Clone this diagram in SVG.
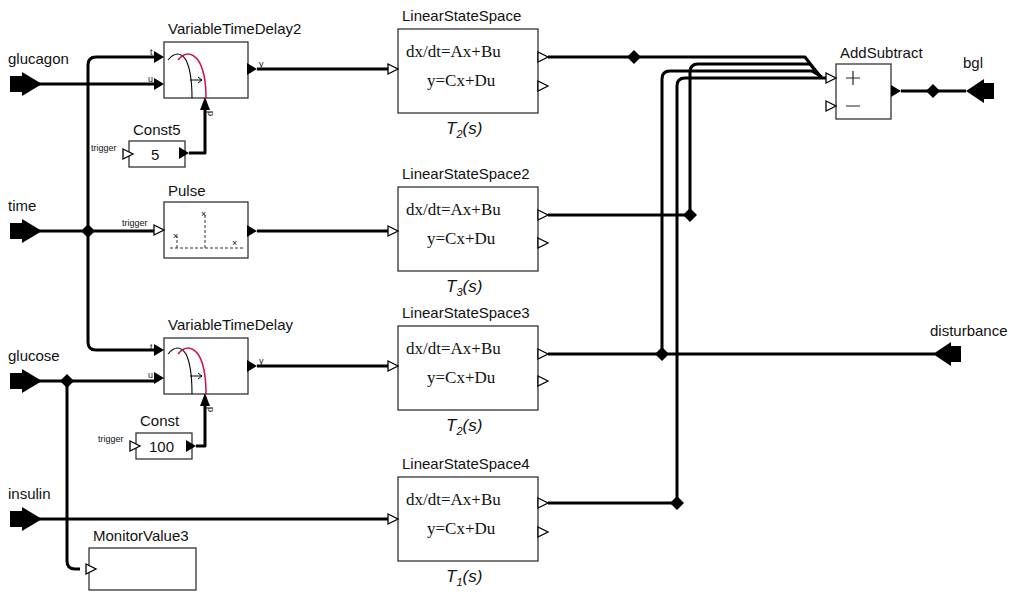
<svg xmlns="http://www.w3.org/2000/svg" width="1024" height="596" viewBox="0 0 1024 596">
<style>
.b{fill:#fff;stroke:#333;stroke-width:1.3}
.w{fill:none;stroke:#000;stroke-width:3;stroke-linejoin:round}
.l{font-family:"Liberation Sans",Arial,sans-serif;font-size:15px;fill:#111}
.s{font-family:"Liberation Sans",Arial,sans-serif;font-size:9px;fill:#111}
.e{font-family:"Liberation Serif","Times New Roman",serif;font-size:17px;fill:#111}
.t{font-family:"Liberation Sans",Arial,sans-serif;font-size:17px;font-style:italic;fill:#111}
.oi{fill:#fff;stroke:#000;stroke-width:1.3}
.fi{fill:#000}
.dash{fill:none;stroke:#333;stroke-width:1;stroke-dasharray:3 2}
</style>
<defs>
<path id="inp" d="M-30,-8h12v-4l20,12l-20,12v-4h-12z" fill="#000"/>
<path id="outp" d="M0,0l18,-12v4h10v16h-10v4z" fill="#000"/>
<path id="dia" d="M-7,0L0,-7L7,0L0,7z" fill="#000"/>
<path id="oin" d="M-10,-5L0,0L-10,5z" class="oi"/>
<path id="fin" d="M-10,-6L0,0L-10,6z" class="fi"/>
<path id="fout" d="M0,-6L10,0L0,6z" class="fi"/>
<path id="oout" d="M0,-5L10,0L0,5z" class="oi"/>
</defs>

<g id="connectors">
<path class="w" d="M38,84H154"/>
<path class="w" d="M154,57H96Q88,57 88,65V342Q88,350 96,350H154"/>
<path class="w" d="M38,231H154"/>
<path class="w" d="M38,381H154"/>
<path class="w" d="M67,381V561Q67,569 75,569H80"/>
<path class="w" d="M38,519H388"/>
<path class="w" d="M189,153H205V108"/>
<path class="w" d="M196,446H205V404"/>
<path class="w" d="M257,69H388"/>
<path class="w" d="M257,231H388"/>
<path class="w" d="M257,366H388"/>
<path class="w" d="M548,57H805L818,74"/>
<path class="w" d="M548,215H690V72Q690,64 698,64H810L820,76"/>
<path class="w" d="M548,354H935"/>
<path class="w" d="M662,354V79Q662,71 670,71H812L822,77"/>
<path class="w" d="M548,503H677V86Q677,78 685,78H826"/>
<path class="w" d="M901,91H966"/>
<use href="#dia" x="88" y="231"/>
<use href="#dia" x="67" y="381"/>
<use href="#dia" x="634" y="57"/>
<use href="#dia" x="690" y="215"/>
<use href="#dia" x="662" y="354"/>
<use href="#dia" x="677" y="503"/>
<use href="#dia" x="933" y="91"/>
</g>

<g id="glucagon"><use href="#inp" x="40" y="84"/><text class="l" x="8" y="64">glucagon</text></g>
<g id="time"><use href="#inp" x="40" y="231"/><text class="l" x="8" y="211">time</text></g>
<g id="glucose"><use href="#inp" x="40" y="381"/><text class="l" x="8" y="361">glucose</text></g>
<g id="insulin"><use href="#inp" x="40" y="519"/><text class="l" x="8" y="499">insulin</text></g>

<g id="VariableTimeDelay2">
<text class="l" x="168" y="34">VariableTimeDelay2</text>
<rect class="b" x="164" y="42" width="84" height="56"/>
<use href="#fin" x="164" y="57"/><use href="#fin" x="164" y="84"/>
<text class="s" x="150" y="55">t</text><text class="s" x="148" y="82">u</text>
<path d="M168,60Q178,48 186,60Q192,72 192,98" fill="none" stroke="#000" stroke-width="1.1"/>
<path d="M178,60Q188,48 198,60Q206,72 206,98" fill="none" stroke="#d0104c" stroke-width="1.5"/>
<path d="M190,80H202M198,77L202,80L198,83" fill="none" stroke="#000" stroke-width="1"/>
<use href="#fout" x="247" y="69"/><text class="s" x="259" y="67">y</text>
<path d="M200,110L205,97L210,110z" class="fi"/>
<text class="s" transform="translate(208,111) rotate(90)">p</text>
</g>
<g id="Const5">
<text class="l" x="133" y="135">Const5</text>
<rect class="b" x="129" y="141" width="56" height="26"/>
<use href="#oin" x="133" y="154"/><text class="s" x="91" y="151">trigger</text>
<text class="l" x="151" y="160">5</text>
<use href="#fout" x="179" y="153"/>
</g>
<g id="Pulse">
<text class="l" x="168" y="196">Pulse</text>
<rect class="b" x="164" y="202" width="84" height="56"/>
<use href="#oin" x="164" y="230"/><text class="s" x="122" y="226">trigger</text>
<path class="dash" d="M170,248H244M177,248V236M205,248V213"/>
<text class="s" x="173" y="239">×</text><text class="s" x="201" y="217">×</text><text class="s" x="232" y="246">×</text>
<use href="#fout" x="247" y="231"/>
</g>
<g id="VariableTimeDelay">
<text class="l" x="168" y="330">VariableTimeDelay</text>
<rect class="b" x="164" y="338" width="84" height="56"/>
<use href="#fin" x="164" y="350"/><use href="#fin" x="164" y="378"/>
<text class="s" x="150" y="350">t</text><text class="s" x="148" y="378">u</text>
<path d="M168,354Q178,342 186,354Q192,366 192,394" fill="none" stroke="#000" stroke-width="1.1"/>
<path d="M178,354Q188,342 198,354Q206,366 206,394" fill="none" stroke="#d0104c" stroke-width="1.5"/>
<path d="M190,376H202M198,373L202,376L198,379" fill="none" stroke="#000" stroke-width="1"/>
<use href="#fout" x="247" y="366"/><text class="s" x="259" y="364">y</text>
<path d="M200,406L205,393L210,406z" class="fi"/>
<text class="s" transform="translate(208,407) rotate(90)">p</text>
</g>
<g id="Const">
<text class="l" x="140" y="426">Const</text>
<rect class="b" x="136" y="433" width="56" height="26"/>
<use href="#oin" x="140" y="446"/><text class="s" x="98" y="442">trigger</text>
<text class="l" x="149" y="452">100</text>
<use href="#fout" x="186" y="446"/>
</g>
<g id="MonitorValue3">
<text class="l" x="93" y="541">MonitorValue3</text>
<rect class="b" x="89" y="548" width="107" height="42"/>
<use href="#oin" x="96" y="569"/>
</g>

<g id="LinearStateSpace">
<text class="l" x="402" y="21">LinearStateSpace</text>
<rect class="b" x="398" y="29" width="140" height="84"/>
<text class="e" x="406" y="57">dx/dt=Ax+Bu</text><text class="e" x="427" y="86">y=Cx+Du</text>
<use href="#oin" x="398" y="69"/><use href="#oout" x="538" y="57"/><use href="#oout" x="538" y="86"/>
<text class="t" x="446" y="134">T<tspan font-size="11" dy="4">2</tspan><tspan dy="-4">(s)</tspan></text>
</g>
<g id="LinearStateSpace2">
<text class="l" x="402" y="179">LinearStateSpace2</text>
<rect class="b" x="398" y="187" width="140" height="84"/>
<text class="e" x="406" y="215">dx/dt=Ax+Bu</text><text class="e" x="427" y="244">y=Cx+Du</text>
<use href="#oin" x="398" y="231"/><use href="#oout" x="538" y="215"/><use href="#oout" x="538" y="243"/>
<text class="t" x="446" y="292">T<tspan font-size="11" dy="4">3</tspan><tspan dy="-4">(s)</tspan></text>
</g>
<g id="LinearStateSpace3">
<text class="l" x="402" y="318">LinearStateSpace3</text>
<rect class="b" x="398" y="326" width="140" height="84"/>
<text class="e" x="406" y="354">dx/dt=Ax+Bu</text><text class="e" x="427" y="383">y=Cx+Du</text>
<use href="#oin" x="398" y="366"/><use href="#oout" x="538" y="354"/><use href="#oout" x="538" y="381"/>
<text class="t" x="446" y="431">T<tspan font-size="11" dy="4">2</tspan><tspan dy="-4">(s)</tspan></text>
</g>
<g id="LinearStateSpace4">
<text class="l" x="402" y="469">LinearStateSpace4</text>
<rect class="b" x="398" y="477" width="140" height="84"/>
<text class="e" x="406" y="505">dx/dt=Ax+Bu</text><text class="e" x="427" y="534">y=Cx+Du</text>
<use href="#oin" x="398" y="519"/><use href="#oout" x="538" y="503"/><use href="#oout" x="538" y="532"/>
<text class="t" x="446" y="582">T<tspan font-size="11" dy="4">1</tspan><tspan dy="-4">(s)</tspan></text>
</g>
<g id="AddSubtract">
<text class="l" x="840" y="58">AddSubtract</text>
<rect class="b" x="836" y="64" width="55" height="55"/>
<use href="#oin" x="836" y="78"/><use href="#oin" x="836" y="106"/>
<path d="M846,78h14M853,71v14M846,106h14" stroke="#222" stroke-width="1.2"/>
<use href="#fout" x="891" y="91"/>
</g>
<g id="bgl"><use href="#outp" x="966" y="91"/><text class="l" x="963" y="68">bgl</text></g>
<g id="disturbance"><use href="#outp" x="933" y="354"/><text class="l" x="930" y="336">disturbance</text></g>
</svg>
